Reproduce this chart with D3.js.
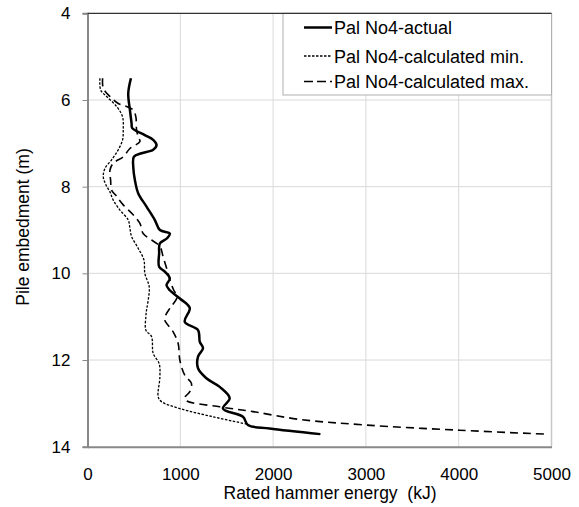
<!DOCTYPE html>
<html>
<head>
<meta charset="utf-8">
<script src="https://cdn.jsdelivr.net/npm/d3@7"></script>
<style>
  html, body { margin: 0; padding: 0; background: #fff; }
  text { font-family: "Liberation Sans", Arial, sans-serif; fill: #000; }
</style>
</head>
<body>
<svg id="chart" width="579" height="507"></svg>
<script>
// ---- Data (energy kJ, depth m) ----
const actualEnergy = [468, 439, 457, 475, 482, 618, 708, 744, 708, 583, 500, 493, 511, 546, 636, 726, 780, 887, 858, 780, 772, 772, 833, 887, 851, 887, 995, 1102, 1048, 1191, 1210, 1245, 1191, 1191, 1281, 1425, 1532, 1460, 1675, 1729, 1962, 2510];
const actualDepth  = [5.5, 5.85, 6.23, 6.54, 6.65, 6.81, 6.92, 7.04, 7.15, 7.23, 7.31, 7.54, 7.85, 8.15, 8.46, 8.77, 9.0, 9.08, 9.19, 9.31, 9.54, 9.85, 9.96, 10.12, 10.27, 10.39, 10.58, 10.8, 11.12, 11.31, 11.58, 11.73, 11.92, 12.19, 12.42, 12.62, 12.88, 13.12, 13.31, 13.5, 13.58, 13.71];

const minEnergy = [134, 142, 206, 314, 378, 385, 378, 331, 260, 188, 170, 199, 242, 277, 349, 439, 457, 475, 546, 608, 618, 665, 654, 636, 629, 629, 690, 708, 772, 780, 762, 797, 995, 1353, 1720];
const minDepth  = [5.5, 5.77, 5.92, 6.15, 6.39, 6.69, 6.92, 7.15, 7.38, 7.58, 7.77, 7.96, 8.12, 8.31, 8.54, 8.77, 8.96, 9.15, 9.42, 9.69, 10.0, 10.31, 10.62, 10.85, 11.0, 11.31, 11.46, 11.85, 12.08, 12.39, 12.85, 12.96, 13.12, 13.31, 13.48];

const maxEnergy = [163, 170, 242, 331, 421, 492, 521, 529, 546, 565, 457, 385, 277, 242, 249, 260, 305, 385, 492, 565, 600, 690, 780, 815, 858, 887, 930, 966, 887, 844, 833, 923, 977, 995, 1048, 1120, 1102, 1048, 1066, 1425, 1783, 2285, 3002, 4005, 4940];
const maxDepth  = [5.5, 5.73, 5.92, 6.08, 6.15, 6.23, 6.39, 6.69, 6.85, 6.96, 7.12, 7.31, 7.46, 7.62, 7.85, 8.08, 8.2, 8.42, 8.65, 8.85, 9.08, 9.23, 9.38, 9.62, 9.92, 10.15, 10.39, 10.54, 10.81, 10.96, 11.08, 11.35, 11.62, 12.0, 12.35, 12.54, 12.73, 12.87, 12.94, 13.08, 13.19, 13.37, 13.5, 13.62, 13.71];

const xTicks = [0, 1000, 2000, 3000, 4000, 5000];
const yTicks = [4, 6, 8, 10, 12, 14];
const seriesNames = ["Pal No4-actual", "Pal No4-calculated min.", "Pal No4-calculated max."];

(function () {
// ---- Layout ----
const svg = d3.select("#chart");
const pL = 87.5, pR = 551.5, pT = 13.3, pB = 446.7;

const x = d3.scaleLinear().domain([0, 5000]).range([pL, pR]);
const y = d3.scaleLinear().domain([4, 14]).range([pT, pB]);

// gridlines
svg.append("g").selectAll("line").data(xTicks.slice(1, -1)).join("line")
  .attr("x1", d => x(d)).attr("x2", d => x(d)).attr("y1", pT).attr("y2", pB)
  .attr("stroke", "#d9d9d9").attr("stroke-width", 1);
svg.append("g").selectAll("line").data(yTicks.slice(1, -1)).join("line")
  .attr("x1", pL).attr("x2", pR).attr("y1", d => y(d)).attr("y2", d => y(d))
  .attr("stroke", "#d9d9d9").attr("stroke-width", 1);

// frame
svg.append("line").attr("x1", pR).attr("x2", pR).attr("y1", pT).attr("y2", pB)
  .attr("stroke", "#c8c8c8").attr("stroke-width", 1.5);

// y axis
const yAxis = d3.axisLeft(y).tickValues(yTicks).tickSize(5).tickPadding(12);
const gy = svg.append("g").attr("transform", `translate(${pL},0)`).call(yAxis);
gy.select(".domain").attr("stroke", "#888").attr("stroke-width", 2);
gy.selectAll(".tick line").attr("stroke", "#888");
gy.selectAll(".tick text").attr("font-size", 17).attr("font-family", "Liberation Sans, Arial, sans-serif").attr("fill", "#000");

// x axis
const xAxis = d3.axisBottom(x).tickValues(xTicks).tickFormat(d3.format("d")).tickSize(0).tickPadding(21);
const gx = svg.append("g").attr("transform", `translate(0,${pB})`).call(xAxis);
gx.select(".domain").attr("stroke", "#888").attr("stroke-width", 2);
gx.selectAll(".tick text").attr("font-size", 17).attr("font-family", "Liberation Sans, Arial, sans-serif").attr("fill", "#000");

// axis titles
svg.append("text").attr("x", 330).attr("y", 499).attr("text-anchor", "middle")
  .attr("font-size", 17.5).style("white-space", "pre").text("Rated hammer energy  (kJ)");
svg.append("text").attr("transform", "translate(29,227) rotate(-90)").attr("text-anchor", "middle")
  .attr("font-size", 17.5).text("Pile embedment (m)");

// lines
const line = d3.line().x(d => x(d[0])).y(d => y(d[1])).curve(d3.curveCatmullRom.alpha(0.5));
const zip = (a, b) => a.map((v, i) => [v, b[i]]);

svg.append("path").datum(zip(minEnergy, minDepth)).attr("d", line)
  .attr("fill", "none").attr("stroke", "#000").attr("stroke-width", 1.3).attr("stroke-dasharray", "2.5,1.5");
svg.append("path").datum(zip(maxEnergy, maxDepth)).attr("d", line)
  .attr("fill", "none").attr("stroke", "#000").attr("stroke-width", 1.6).attr("stroke-dasharray", "8,5");
svg.append("path").datum(zip(actualEnergy, actualDepth)).attr("d", line)
  .attr("fill", "none").attr("stroke", "#000").attr("stroke-width", 2.5);

// legend
const lg = svg.append("g");
lg.append("rect").attr("x", 283).attr("y", pT).attr("width", pR - 283).attr("height", 95 - pT)
  .attr("fill", "#fff").attr("stroke", "#b0b0b0").attr("stroke-width", 1);
svg.append("line").attr("x1", pL).attr("x2", pR).attr("y1", pT).attr("y2", pT)
  .attr("stroke", "#333").attr("stroke-width", 1.2);
const styles = [
  {w: 2.5, dash: null},
  {w: 1.3, dash: "2.5,1.5"},
  {w: 1.6, dash: "9,4"}
];
const rowBase = [34, 62.5, 88];
seriesNames.forEach((name, i) => {
  lg.append("line").attr("x1", 304).attr("x2", 332).attr("y1", rowBase[i] - 6.5).attr("y2", rowBase[i] - 6.5)
    .attr("stroke", "#000").attr("stroke-width", styles[i].w)
    .attr("stroke-dasharray", styles[i].dash);
  lg.append("text").attr("x", 334).attr("y", rowBase[i]).attr("font-size", 18).text(name);
});
})();
</script>
</body>
</html>
